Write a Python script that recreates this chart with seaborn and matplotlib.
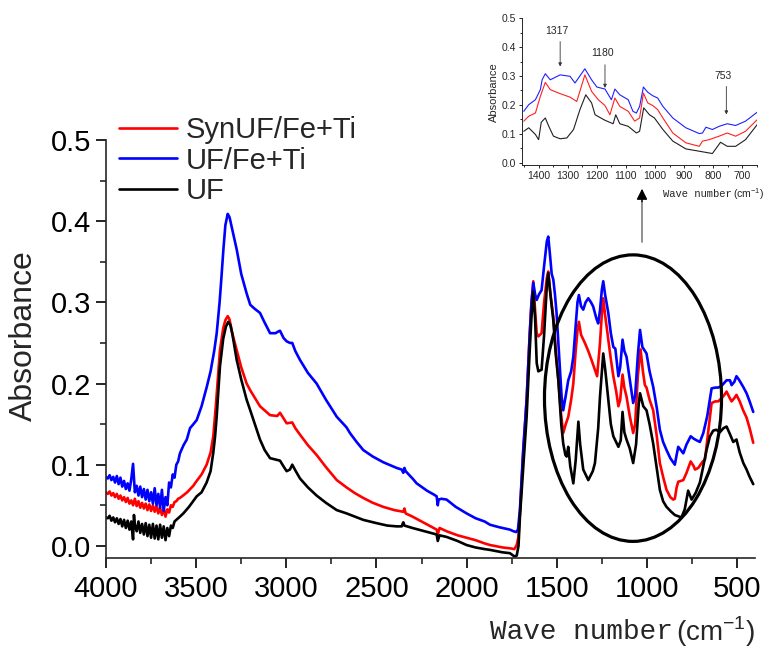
import numpy as np
import pandas as pd
import seaborn as sns
import matplotlib
matplotlib.use("Agg")
import matplotlib.pyplot as plt
from matplotlib.patches import Ellipse
from matplotlib.ticker import MultipleLocator

# ---------------- main spectrum data ----------------
series_names = ["SynUF/Fe+Ti", "UF/Fe+Ti", "UF"]
series_colors = ["#ff0000", "#0000ff", "#000000"]

blue_wn = [4000, 3990, 3980, 3970, 3960, 3950, 3940, 3930, 3920, 3910, 3900, 3890, 3880, 3870, 3860, 3850,
           3840, 3830, 3820, 3810, 3800, 3790, 3780, 3770, 3760, 3750, 3740, 3730, 3720, 3710, 3700, 3690,
           3680, 3670, 3660, 3650, 3640, 3630, 3620, 3610, 3600,
           3590, 3570, 3552, 3534, 3515, 3497, 3470, 3441, 3420, 3400, 3386, 3370, 3360, 3349, 3338, 3325,
           3315, 3300, 3275, 3250, 3220, 3200, 3175, 3146, 3120, 3090, 3060, 3045, 3035, 3015, 2998, 2980,
           2967, 2950, 2924, 2880, 2832, 2780, 2720, 2666, 2647, 2610, 2573, 2520, 2462, 2420, 2388, 2360,
           2351, 2345, 2338, 2300, 2277, 2220, 2180, 2166, 2160, 2155, 2140, 2111, 2060, 2000, 1950, 1900,
           1870, 1820, 1780, 1760, 1740, 1725, 1715,
           1704, 1686, 1667, 1650, 1640, 1630, 1620, 1611, 1598, 1584, 1570, 1555, 1547, 1538, 1528, 1519,
           1510, 1501, 1488, 1473, 1464, 1450, 1436, 1420, 1408, 1395, 1385, 1377, 1365, 1353, 1340, 1325,
           1310, 1298, 1280, 1270, 1260, 1250, 1242, 1232, 1214, 1200, 1186, 1175, 1158, 1148, 1135, 1125,
           1113, 1095, 1076, 1065, 1050, 1038, 1025, 1011, 1002, 985, 965, 945, 928, 910, 891, 870, 845,
           835, 826, 812, 798, 780, 757, 740, 724, 706, 687, 665, 641, 620, 604, 586, 570, 558, 539, 530,
           515, 503, 490, 466, 447, 430, 410]
blue_ab = [.085, .083, .087, .081, .085, .078, .086, .076, .084, .073, .080, .070, .077, .068, .082, .101,
           .066, .074, .062, .073, .060, .070, .057, .069, .055, .066, .052, .071, .050, .064, .047, .069,
           .043, .060, .050, .078, .072, .088, .084, .100, .104,
           .114, .124, .131, .145, .150, .155, .172, .196, .215, .240, .262, .300, .330, .365, .395, .409,
           .405, .390, .365, .335, .311, .297, .292, .287, .275, .262, .262, .264, .265, .256, .252, .250,
           .250, .240, .229, .213, .200, .180, .159, .146, .139, .128, .118, .110, .103, .099, .096, .094,
           .090, .096, .092, .083, .077, .068, .063, .061, .050, .057, .058, .057, .048, .040, .034, .030,
           .026, .023, .021, .020, .018, .017, .020,
           .045, .118, .180, .260, .300, .324, .310, .303, .310, .315, .345, .375, .381, .360, .335, .328,
           .310, .287, .240, .184, .167, .185, .204, .215, .233, .270, .300, .309, .295, .291, .300, .305,
           .300, .295, .280, .274, .290, .315, .326, .310, .287, .262, .245, .243, .209, .220, .254, .240,
           .233, .205, .176, .185, .235, .266, .245, .240, .237, .215, .196, .170, .143, .128, .118, .108, .100,
           .112, .122, .118, .114, .125, .135, .132, .130, .128, .139, .160, .194, .195, .195, .197, .201, .204, .204, .198,
           .202, .209, .205, .196, .188, .178, .165]

red_wn = [4000, 3990, 3980, 3970, 3960, 3950, 3940, 3930, 3920, 3910, 3900, 3890, 3880, 3870, 3860, 3850,
          3840, 3830, 3820, 3810, 3800, 3790, 3780, 3770, 3760, 3750, 3740, 3730, 3720, 3710, 3700, 3690,
          3680, 3670, 3660, 3650, 3640, 3630, 3620, 3610, 3600,
          3590, 3550, 3516, 3497, 3470, 3442, 3420, 3405, 3390, 3380, 3368, 3350, 3338, 3325, 3315, 3300,
          3275, 3250, 3220, 3201, 3146, 3090, 3050, 3035, 3015, 2998, 2967, 2950, 2924, 2880, 2832, 2780,
          2720, 2666, 2620, 2573, 2520, 2462, 2400, 2351, 2345, 2338, 2300, 2250, 2200, 2166, 2160, 2150,
          2111, 2050, 2000, 1950, 1900, 1870, 1800, 1760, 1735, 1722, 1713,
          1704, 1686, 1667, 1650, 1640, 1630, 1620, 1611, 1602, 1584, 1570, 1555, 1547, 1535, 1519, 1505,
          1491, 1475, 1464, 1450, 1436, 1420, 1408, 1395, 1385, 1377, 1365, 1344, 1325, 1307, 1290, 1276,
          1260, 1250, 1242, 1232, 1214, 1200, 1186, 1170, 1158, 1148, 1135, 1125, 1113, 1095, 1076, 1065,
          1050, 1035, 1022, 1011, 1002, 985, 965, 945, 928, 910, 891, 870, 854, 845, 835, 826, 812, 798,
          780, 757, 740, 733, 715, 690, 678, 660, 641, 620, 604, 586, 570, 558, 540, 530, 515, 503, 485,
          466, 447, 430, 410]
red_ab = [.066, .064, .067, .062, .065, .060, .064, .058, .062, .056, .060, .054, .059, .052, .056, .050,
          .058, .049, .055, .047, .053, .046, .052, .044, .051, .043, .050, .042, .049, .040, .047, .038,
          .046, .036, .045, .041, .050, .048, .054, .055, .058,
          .059, .066, .074, .080, .088, .100, .115, .135, .175, .205, .241, .268, .278, .283, .279, .262,
          .241, .220, .200, .192, .172, .161, .160, .164, .157, .151, .152, .145, .137, .124, .112, .097,
          .081, .072, .065, .059, .053, .048, .044, .042, .046, .040, .036, .030, .024, .020, .014, .022,
          .018, .013, .010, .007, .003, .001, -.002, -.003, -.004, .001, .010,
          .040, .115, .180, .260, .300, .326, .290, .262, .258, .262, .300, .330, .338, .310, .282, .240,
          .204, .160, .139, .150, .159, .180, .200, .240, .265, .276, .260, .250, .240, .229, .218, .209,
          .250, .285, .305, .285, .254, .230, .209, .190, .172, .180, .211, .195, .184, .160, .139, .150,
          .210, .242, .215, .198, .195, .180, .167, .135, .102, .085, .069, .060, .057, .058, .072, .079, .080, .081,
          .090, .104, .098, .094, .096, .104, .106, .140, .176, .178, .178, .182, .186, .190, .182, .178, .182, .186, .178,
          .167, .158, .145, .127]

black_wn = [4000, 3990, 3980, 3970, 3960, 3950, 3940, 3930, 3920, 3910, 3900, 3890, 3880, 3870, 3860, 3850,
            3845, 3840, 3830, 3820, 3810, 3800, 3790, 3780, 3770, 3760, 3750, 3740, 3730, 3720, 3710, 3700,
            3690, 3680, 3670, 3660, 3650, 3640, 3630, 3620, 3610, 3600,
            3590, 3571, 3540, 3497, 3470, 3442, 3420, 3405, 3395, 3386, 3368, 3350, 3335, 3322, 3310, 3300,
            3275, 3250, 3220, 3200, 3146, 3120, 3090, 3035, 3010, 2998, 2980, 2967, 2950, 2924, 2880, 2832,
            2780, 2720, 2666, 2620, 2573, 2500, 2440, 2388, 2360, 2351, 2345, 2300, 2250, 2200, 2166, 2160,
            2150, 2111, 2050, 2000, 1950, 1900, 1870, 1800, 1760, 1735, 1722, 1712,
            1704, 1685, 1667, 1650, 1640, 1630, 1620, 1611, 1602, 1584, 1570, 1555, 1547, 1535, 1519, 1505,
            1491, 1475, 1464, 1452, 1445, 1436, 1425, 1408, 1395, 1380, 1370, 1353, 1325, 1300, 1288, 1270,
            1260, 1242, 1230, 1214, 1200, 1186, 1158, 1145, 1135, 1125, 1113, 1095, 1076, 1060, 1045, 1038,
            1020, 1002, 985, 965, 945, 928, 910, 891, 865, 845, 808, 790, 771, 752, 730, 706, 690, 669, 650,
            632, 615, 595, 575, 558, 540, 521, 503, 485, 465, 447, 430, 410]
black_ab = [.035, .034, .037, .031, .035, .029, .034, .027, .033, .024, .032, .022, .031, .020, .030, .008,
            .038, .026, .018, .030, .016, .027, .014, .028, .012, .026, .010, .027, .009, .025, .008, .026,
            .010, .024, .007, .022, .012, .025, .022, .030, .032, .034,
            .036, .040, .048, .061, .066, .078, .092, .115, .135, .160, .221, .255, .270, .276, .272, .262,
            .229, .205, .180, .167, .131, .118, .108, .105, .096, .092, .094, .100, .093, .083, .072, .062,
            .053, .044, .040, .036, .032, .028, .025, .024, .024, .029, .025, .022, .019, .016, .014, .006,
            .013, .011, .006, .001, -.002, -.004, -.005, -.008, -.009, -.013, -.012, .000,
            .036, .100, .159, .240, .282, .313, .280, .225, .215, .217, .260, .320, .336, .310, .278, .235,
            .204, .150, .126, .112, .110, .122, .098, .077, .105, .153, .125, .094, .081, .092, .102, .145,
            .184, .237, .215, .180, .150, .135, .122, .130, .165, .140, .131, .120, .102, .125, .175, .188,
            .172, .167, .150, .126, .095, .069, .055, .048, .042, .038, .035, .045, .068, .057, .065, .078, .095, .118, .135,
            .142, .143, .140, .145, .147, .138, .128, .131, .115, .102, .094, .085, .076]

# ---------------- inset data ----------------
ins_blue_wn = [1451, 1434, 1411, 1394, 1388, 1377, 1360, 1326, 1292, 1275, 1241, 1218, 1200, 1172, 1150, 1138,
               1121, 1092, 1076, 1064, 1053, 1040, 1025, 1008, 991, 973, 939, 894, 848, 837, 825, 803, 780,
               752, 723, 689, 649]
ins_blue_ab = [.178, .201, .218, .253, .287, .308, .287, .304, .299, .276, .325, .287, .262, .255, .218, .255,
               .235, .218, .178, .172, .195, .262, .244, .232, .224, .195, .155, .121, .101, .103, .123, .115, .126,
               .135, .129, .144, .175]
ins_red_wn = [1451, 1434, 1411, 1394, 1377, 1360, 1326, 1292, 1269, 1241, 1218, 1195, 1172, 1155, 1138, 1121,
              1092, 1070, 1053, 1040, 1025, 1008, 991, 973, 939, 894, 848, 837, 814, 780, 752, 723, 689, 649]
ins_red_ab = [.144, .161, .172, .230, .278, .253, .239, .227, .212, .304, .247, .218, .198, .166, .224, .195,
              .178, .144, .155, .241, .207, .198, .184, .155, .103, .069, .057, .075, .080, .092, .103, .092,
              .109, .149]
ins_black_wn = [1451, 1434, 1411, 1400, 1391, 1377, 1365, 1349, 1326, 1303, 1280, 1258, 1238, 1218, 1206, 1172,
                1144, 1135, 1121, 1092, 1064, 1053, 1039, 1019, 1002, 973, 939, 894, 848, 803, 775, 752, 723,
                689, 649]
ins_black_ab = [.109, .121, .098, .080, .140, .155, .126, .092, .083, .086, .115, .184, .235, .207, .166, .147,
                .135, .166, .135, .126, .103, .109, .190, .166, .155, .115, .075, .048, .040, .032, .071, .057,
                .057, .080, .132]

peak_labels = ["1317", "1180", "753"]
peak_positions = [1326, 1172, 755]

# ---------------- figure ----------------
sns.set_theme(style="ticks")
plt.rcParams["font.family"] = ["Liberation Sans", "DejaVu Sans"]
plt.rcParams["mathtext.fontset"] = "custom"
plt.rcParams["mathtext.rm"] = "Liberation Sans"
plt.rcParams["axes.linewidth"] = 1.2

fig = plt.figure(figsize=(7.66, 6.5), dpi=100)
fig.patch.set_facecolor("white")
ax = fig.add_axes([0.1384, 0.1415, 0.8473, 0.6431])

main_sets = [(red_wn, red_ab), (blue_wn, blue_ab), (black_wn, black_ab)]
for (wn, ab), name, col in zip(main_sets, series_names, series_colors):
    df = pd.DataFrame({"wn": wn, "ab": ab})
    sns.lineplot(data=df, x="wn", y="ab", color=col, lw=1.9, ax=ax, label=name,
                 sort=False, estimator=None)

ax.set_xlim(4000, 400)
ax.set_ylim(-0.015, 0.5)
ax.xaxis.set_major_locator(MultipleLocator(500))
ax.xaxis.set_minor_locator(MultipleLocator(250))
ax.yaxis.set_major_locator(MultipleLocator(0.1))
ax.yaxis.set_minor_locator(MultipleLocator(0.05))
ax.yaxis.set_major_formatter(matplotlib.ticker.FormatStrFormatter("%.1f"))
ax.tick_params(which="major", direction="out", length=7, width=1.2, labelsize=21, colors="black")
ax.tick_params(axis="x", which="major", pad=5.5)
ax.tick_params(axis="y", which="major", pad=3.5)
ax.tick_params(which="minor", direction="out", length=4, width=1.2)
for s in ["top", "right"]:
    ax.spines[s].set_visible(False)
ax.set_xlabel("")
ax.set_ylabel("Absorbance", fontsize=23)
ax.yaxis.set_label_coords(-0.103, 0.533)

leg = ax.legend(loc="upper left", bbox_to_anchor=(0.155, 0.821), bbox_transform=fig.transFigure,
                frameon=False, fontsize=21, handlelength=2.0, handletextpad=0.3, labelspacing=0.08,
                borderpad=0, borderaxespad=0)
for line in leg.get_lines():
    line.set_linewidth(1.9)

# ellipse highlighting fingerprint region
ax.add_patch(Ellipse((1077, 0.182), width=982, height=0.353, fill=False, ec="black", lw=2.3, zorder=5))
ax.plot([1027, 1027], [0.374, 0.425], color="#888888", lw=1.3, clip_on=False)
ax.annotate("", xy=(1027, 0.44), xytext=(1027, 0.424), xycoords="data",
            arrowprops=dict(arrowstyle="-|>", color="black", lw=1.0, mutation_scale=16,
                            shrinkA=0, shrinkB=0), annotation_clip=False)

# x label (two fonts)
fig.text(0.879, 0.028, "Wave number", family="Liberation Mono", fontsize=20, ha="right", va="center")
fig.text(0.883, 0.028, r"(cm$^{\mathregular{-1}}$)", fontsize=20, ha="left", va="center")

# ---------------- inset ----------------
axi = fig.add_axes([0.6815, 0.746, 0.307, 0.226])
ins_sets = [(ins_red_wn, ins_red_ab), (ins_blue_wn, ins_blue_ab), (ins_black_wn, ins_black_ab)]
ins_colors = ["#ff2020", "#2020ff", "#202020"]
for (wn, ab), col in zip(ins_sets, ins_colors):
    dfi = pd.DataFrame({"wn": wn, "ab": ab})
    sns.lineplot(data=dfi, x="wn", y="ab", color=col, lw=0.8, ax=axi, sort=False, estimator=None)
axi.set_xlim(1457, 649)
axi.set_ylim(-0.008, 0.5)
axi.xaxis.set_major_locator(MultipleLocator(100))
axi.xaxis.set_minor_locator(MultipleLocator(50))
axi.yaxis.set_major_locator(MultipleLocator(0.1))
axi.yaxis.set_minor_locator(MultipleLocator(0.05))
axi.yaxis.set_major_formatter(matplotlib.ticker.FormatStrFormatter("%.1f"))
axi.tick_params(which="major", direction="out", length=2.5, width=0.7, labelsize=7.5, pad=1.5)
axi.tick_params(which="minor", direction="out", length=1.5, width=0.7)
for s in ["top", "right"]:
    axi.spines[s].set_visible(False)
for s in ["left", "bottom"]:
    axi.spines[s].set_linewidth(0.7)
axi.set_xlabel("")
axi.set_ylabel("Absorbance", fontsize=8, labelpad=2)
axi.patch.set_alpha(0)

label_y = [0.457, 0.380, 0.301]
arrow_top = [0.419, 0.339, 0.264]
arrow_bot = [0.333, 0.259, 0.167]
for lab, xp, ly, at, ab_ in zip(peak_labels, peak_positions, label_y, arrow_top, arrow_bot):
    axi.text(xp + 10, ly, lab, fontsize=7.5, ha="center", va="center")
    axi.annotate("", xy=(xp, ab_), xytext=(xp, at),
                 arrowprops=dict(arrowstyle="-|>", color="#333333", lw=0.6, mutation_scale=5,
                                 shrinkA=0, shrinkB=0))

fig.text(0.8655, 0.7015, "Wave number", family="Liberation Mono", fontsize=7.6, ha="left", va="center")
fig.text(0.9575, 0.7015, r"(cm$^{\mathregular{-1}}$)", fontsize=7.6, ha="left", va="center")

fig.savefig("out.png", dpi=100, facecolor="white")
